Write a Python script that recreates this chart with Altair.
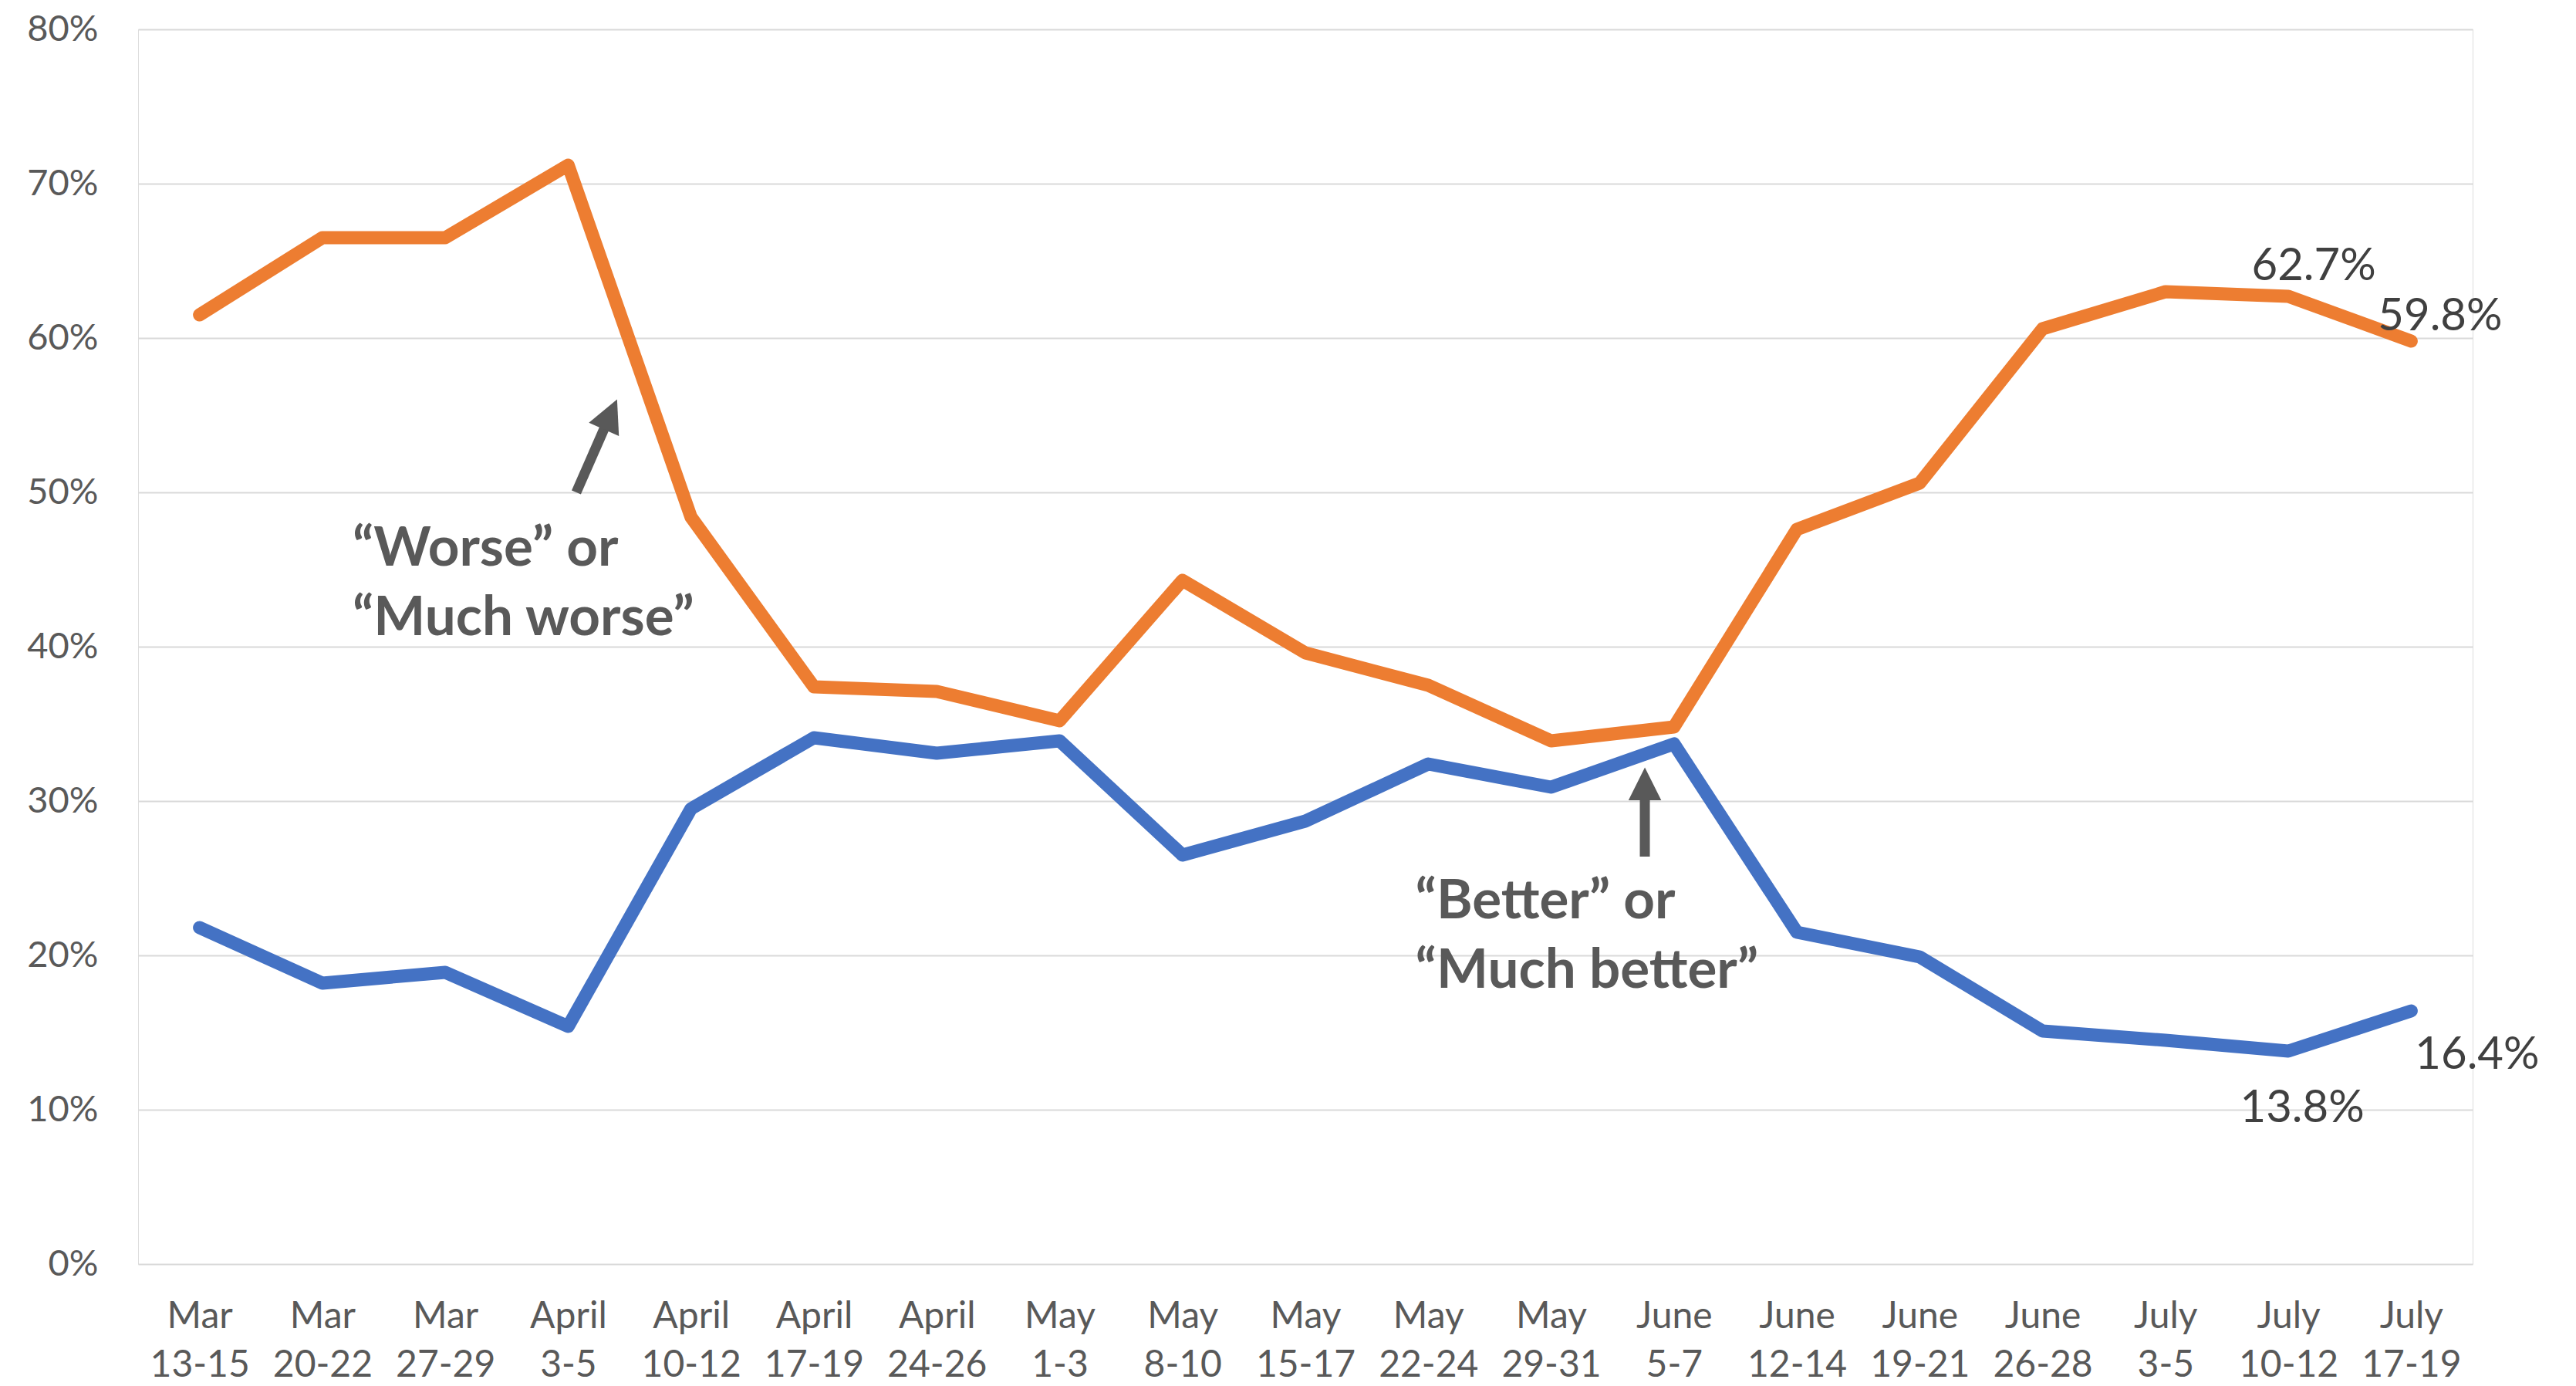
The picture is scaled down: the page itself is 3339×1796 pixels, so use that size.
import json
import altair as alt
import pandas as pd

# ---- data ----
weeks = ["Mar|13-15", "Mar|20-22", "Mar|27-29", "April|3-5", "April|10-12",
         "April|17-19", "April|24-26", "May|1-3", "May|8-10", "May|15-17",
         "May|22-24", "May|29-31", "June|5-7", "June|12-14", "June|19-21",
         "June|26-28", "July|3-5", "July|10-12", "July|17-19"]
worse = [61.5, 66.5, 66.5, 71.2, 48.4, 37.4, 37.1, 35.2, 44.3, 39.6,
         37.5, 33.9, 34.8, 47.6, 50.6, 60.6, 63.0, 62.7, 59.8]
better = [21.8, 18.2, 18.9, 15.4, 29.5, 34.1, 33.1, 33.9, 26.5, 28.7,
          32.4, 30.9, 33.7, 21.5, 19.9, 15.1, 14.5, 13.8, 16.4]
series_names = ["Better", "Worse"]
series_colors = ["#4472C4", "#ED7D31"]
y_ticks = [0, 10, 20, 30, 40, 50, 60, 70, 80]

# annotation texts and their anchor points (in data units: week index, percent)
ann_text = ["\u201cWorse\u201d or\n\u201cMuch worse\u201d", "\u201cBetter\u201d or\n\u201cMuch better\u201d"]
ann_x = [1.245, 9.895]
ann_y = [45.25, 22.4]
# arrows: tail -> shaft end, head base, head angle
arr_x = [3.066, 11.763]
arr_y = [50.0, 26.4]
arr_x2 = [3.349, 11.763]
arr_y2 = [55.13, 31.15]
head_x = [3.291, 11.763]
head_y = [54.08, 30.05]
head_angle = [23.7, 0]

n = len(weeks)
rows = []
for i in range(n):
    rows.append({"idx": i, "series": "Better", "value": better[i]})
    rows.append({"idx": i, "series": "Worse", "value": worse[i]})
df = pd.DataFrame(rows)

FONT = "Lato"
GRAY = "#595959"

labels_js = json.dumps(weeks)

x_scale = alt.Scale(domain=[-0.5, n - 0.5], nice=False, zero=False)
y_scale = alt.Scale(domain=[0, 80], nice=False)

base = alt.Chart(df)

lines = base.mark_line(strokeWidth=17, strokeCap="round", strokeJoin="round").encode(
    x=alt.X("idx:Q", scale=x_scale, title=None,
            axis=alt.Axis(values=list(range(n)),
                          labelExpr="split(" + labels_js + "[datum.value], '|')",
                          grid=False, ticks=False, domain=False,
                          labelFont=FONT, labelFontSize=48, labelColor=GRAY,
                          labelBaseline="top", labelLineHeight=63, labelPadding=44,
                          labelAlign="center", labelFlush=False, labelOverlap=False,
                          labelBound=False)),
    y=alt.Y("value:Q", scale=y_scale, title=None,
            axis=alt.Axis(values=y_ticks, labelExpr="datum.value + '%'",
                          grid=True, gridColor="#D9D9D9", gridWidth=2,
                          ticks=False, domain=False,
                          labelFont=FONT, labelFontSize=47, labelColor=GRAY,
                          labelPadding=52)),
    color=alt.Color("series:N", scale=alt.Scale(domain=series_names, range=series_colors),
                    legend=None),
    detail="series:N",
)


def value_label(series, idx, align, dx, dy):
    return base.transform_filter(
        (alt.datum.series == series) & (alt.datum.idx == idx)
    ).transform_calculate(
        lab="format(datum.value, '.1f') + '%'"
    ).mark_text(font=FONT, fontSize=58, color="#404040", align=align,
                baseline="alphabetic", dx=dx, dy=dy).encode(
        x=alt.X("idx:Q", scale=x_scale), y=alt.Y("value:Q", scale=y_scale), text="lab:N")


labels = [
    value_label("Worse", 17, "center", 33, -21),
    value_label("Worse", 18, "left", -43, -14),
    value_label("Better", 18, "left", 5, 75),
    value_label("Better", 17, "center", 18, 92),
]

ann_df = pd.DataFrame({"x": ann_x, "y": ann_y, "t": ann_text})
ann = alt.Chart(ann_df).mark_text(font=FONT, fontSize=71, fontWeight="bold", color=GRAY,
                                  align="left", baseline="alphabetic", lineBreak="\n",
                                  lineHeight=90).encode(
    x=alt.X("x:Q", scale=x_scale), y=alt.Y("y:Q", scale=y_scale), text="t:N")

arr_df = pd.DataFrame({"x": arr_x, "y": arr_y, "x2": arr_x2, "y2": arr_y2,
                       "hx": head_x, "hy": head_y, "ang": head_angle})
shafts = alt.Chart(arr_df).mark_rule(strokeWidth=13, color=GRAY, strokeCap="butt").encode(
    x=alt.X("x:Q", scale=x_scale), y=alt.Y("y:Q", scale=y_scale),
    x2="x2:Q", y2="y2:Q")
heads = alt.Chart(arr_df).mark_point(shape="M0,-1L0.5,0L-0.5,0Z", filled=True, opacity=1,
                                     color=GRAY, size=7225, strokeWidth=0).encode(
    x=alt.X("hx:Q", scale=x_scale), y=alt.Y("hy:Q", scale=y_scale),
    angle=alt.Angle("ang:Q", scale=None))

chart = alt.layer(lines, *labels, ann, shafts, heads).properties(
    width=3026, height=1600,
    autosize=alt.AutoSizeParams(type="none"),
    padding={"left": 171, "top": 30, "right": 126, "bottom": 156},
).configure_view(stroke=None).configure(background="white")

chart.save("out.html", embed_options={"renderer": "svg", "actions": False})
